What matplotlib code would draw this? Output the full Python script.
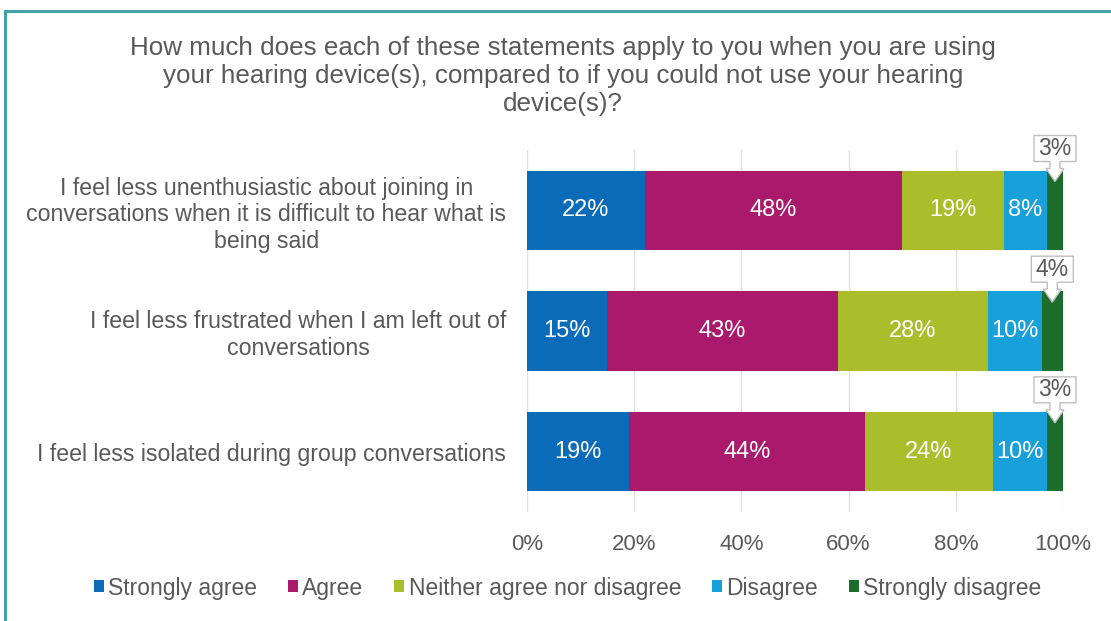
import matplotlib
matplotlib.use("Agg")
import matplotlib.pyplot as plt
import matplotlib.transforms as mtransforms
from matplotlib.patches import Polygon, Patch
from matplotlib.lines import Line2D
import numpy as np

plt.rcParams['font.family'] = ['Liberation Sans', 'DejaVu Sans']

title = ("How much does each of these statements apply to you when you are using\n"
         "your hearing device(s), compared to if you could not use your hearing\n"
         "device(s)?")

statements = [
    "I feel less unenthusiastic about joining in\nconversations when it is difficult to hear what is\nbeing said",
    "I feel less frustrated when I am left out of\nconversations",
    "I feel less isolated during group conversations",
]
responses = ["Strongly agree", "Agree", "Neither agree nor disagree",
             "Disagree", "Strongly disagree"]
strongly_agree = [22, 15, 19]
agree = [48, 43, 44]
neither = [19, 28, 24]
disagree = [8, 10, 10]
strongly_disagree = [3, 4, 3]
tick_values = [0, 20, 40, 60, 80, 100]

colors = ["#0A6BB8", "#AA196B", "#A9BE2A", "#17A0D9", "#1C6C2B"]
text_grey = "#595959"

series = [strongly_agree, agree, neither, disagree, strongly_disagree]

fig = plt.figure(figsize=(11.11, 6.21), dpi=100)
ax = fig.add_axes([527 / 1111, 1 - 512 / 621, (1063 - 527) / 1111, (512 - 150) / 621])

y = np.arange(len(statements))
bar_h = 0.66
left = np.zeros(len(statements))
for vals, col, name in zip(series, colors, responses):
    vals = np.array(vals, dtype=float)
    ax.barh(y, vals, left=left, height=bar_h, color=col, label=name, zorder=2)
    for yi, (l, v) in enumerate(zip(left, vals)):
        if v >= 5:
            ax.text(l + v / 2, yi, f"{int(v)}%", ha="center", va="center",
                    color="white", fontsize=17, zorder=3)
        else:
            # callout above the segment
            cx = l + v / 2
            cy = yi - bar_h / 2
            trans = mtransforms.Affine2D() + mtransforms.ScaledTranslation(cx, cy, ax.transData)
            shape = [(-21, 35), (21, 35), (21, 9), (5, 9), (5, 2), (9, 2), (0, -11),
                     (-9, 2), (-5, 2), (-5, 9), (-21, 9)]
            poly = Polygon(shape, closed=True, facecolor="white", edgecolor="#BFBFBF",
                           lw=1.0, transform=trans, zorder=4, clip_on=False)
            ax.add_patch(poly)
            ax.annotate(f"{int(v)}%", xy=(cx, cy), xytext=(0, 22 * 72 / 100),
                        textcoords="offset points", ha="center", va="center",
                        color=text_grey, fontsize=16.5, zorder=5,
                        annotation_clip=False)
    left += vals

ax.set_xlim(0, 100)
ax.set_ylim(len(statements) - 0.5, -0.5)
ax.set_xticks(tick_values)
ax.set_xticklabels([f"{t}%" for t in tick_values])
ax.set_yticks(y)
ax.set_yticklabels(statements)
for lab in ax.get_yticklabels():
    lab.set_multialignment("center")
ax.tick_params(axis="x", length=0, pad=16, labelsize=16, labelcolor=text_grey)
ax.tick_params(axis="y", length=0, pad=15, labelsize=16.7, labelcolor=text_grey)
for s in ax.spines.values():
    s.set_visible(False)
ax.grid(axis="x", color="#E0E0E0", lw=1, zorder=0)
ax.set_axisbelow(True)

fig.text(0.507, 1 - 76 / 621, title, ha="center", va="center", fontsize=18.7,
         color=text_grey, linespacing=1.22)

handles = [Patch(facecolor=c, edgecolor="none") for c in colors]
fig.legend(handles, responses, loc="center", bbox_to_anchor=(0.511, 1 - 588 / 621),
           ncol=5, frameon=False, fontsize=16.5, handlelength=0.42, handleheight=0.42,
           handletextpad=0.2, columnspacing=1.35, labelcolor=text_grey)

# frame lines
teal = "#3FA3A8"
fig.add_artist(Line2D([5 / 1111, 1], [1 - 11 / 621, 1 - 11 / 621], color=teal, lw=2.2,
                      transform=fig.transFigure))
fig.add_artist(Line2D([5 / 1111, 5 / 1111], [0, 1 - 11 / 621], color=teal, lw=2.2,
                      transform=fig.transFigure))

fig.savefig("out.png", dpi=100, facecolor="white")
